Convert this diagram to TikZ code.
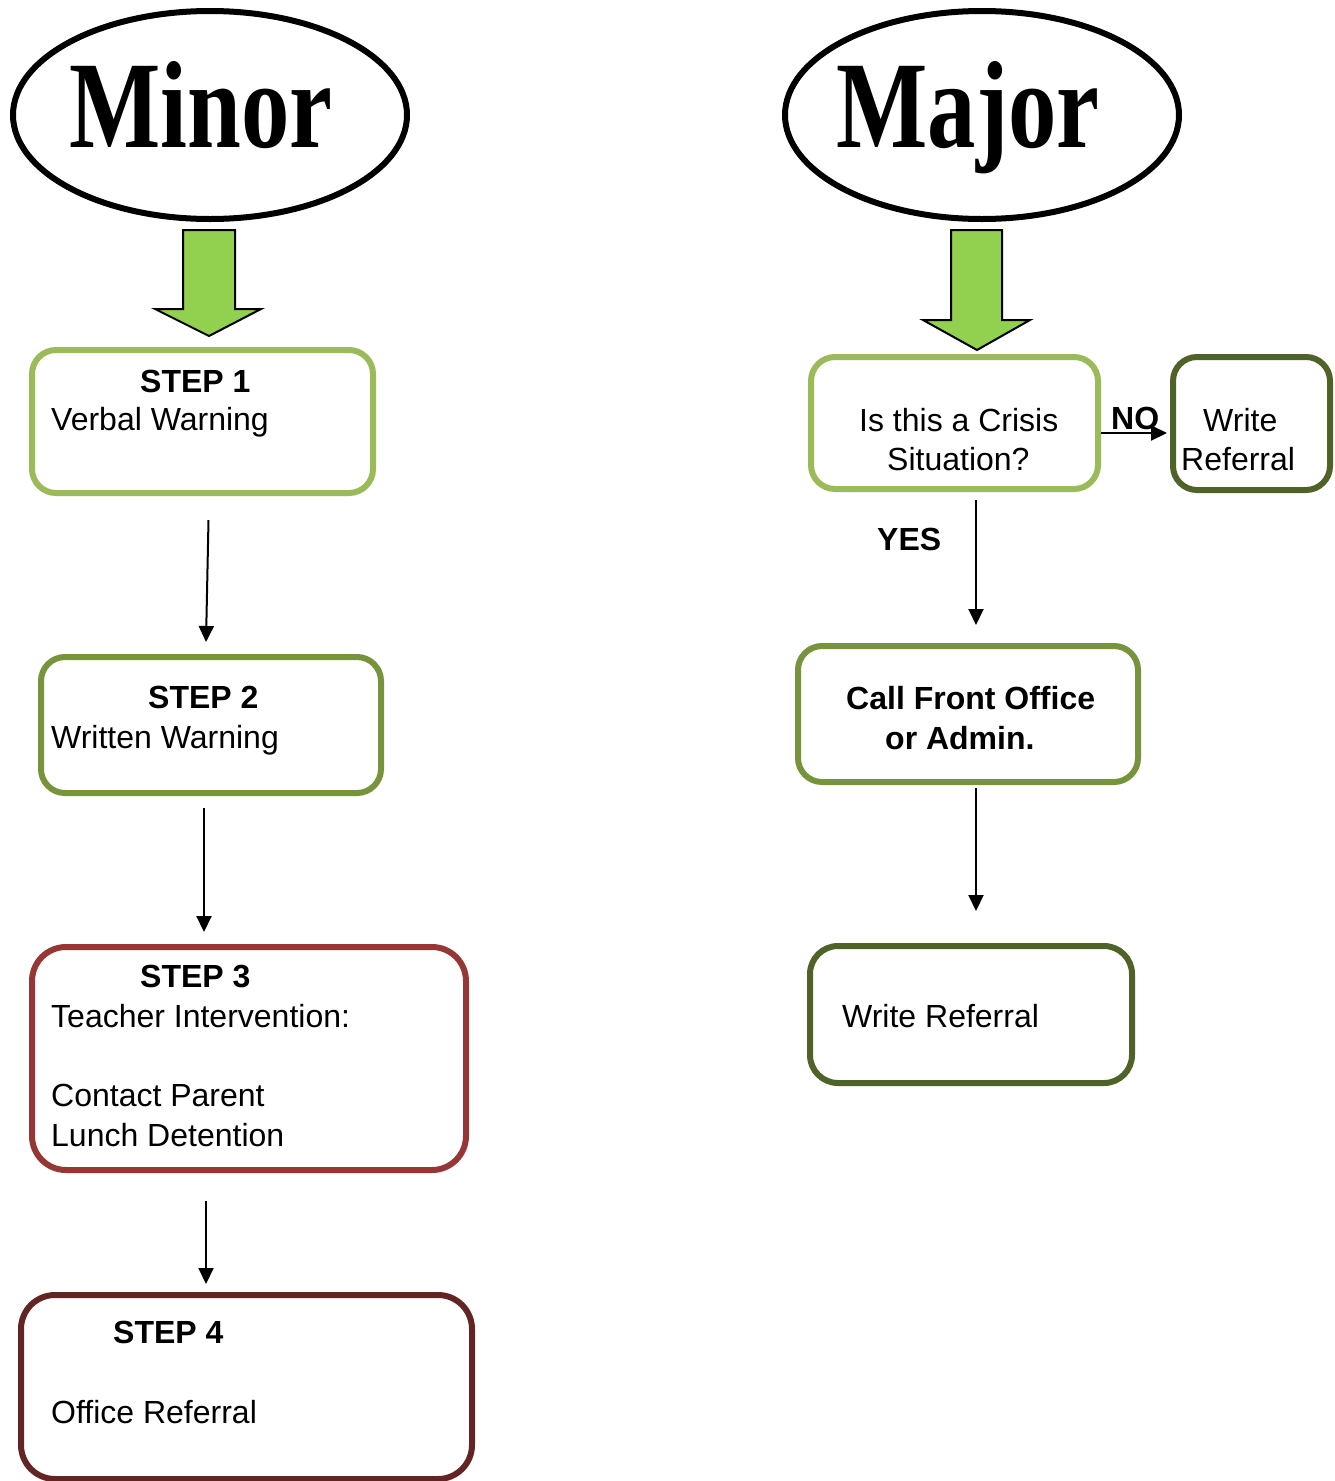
\documentclass[tikz,border=0pt]{standalone}
\usepackage{fontspec}
\usepackage{graphicx}
\setmainfont{Liberation Sans}
\newfontfamily\headfont{Liberation Serif}
\usetikzlibrary{arrows.meta}
\usetikzlibrary{shapes.geometric}
\usetikzlibrary{positioning}
\definecolor{lightolive}{HTML}{9BBB59}
\definecolor{midolive}{HTML}{77933C}
\definecolor{darkolive}{HTML}{4F6228}
\definecolor{brick}{HTML}{953735}
\definecolor{deepred}{HTML}{632523}
\definecolor{arrowgreen}{HTML}{92D050}
\tikzset{level/.style = {draw, ellipse, line width=6pt, inner sep=0pt,
                         minimum width=394pt, minimum height=208pt},
         levellabel/.style = {anchor=base, inner sep=0pt},
         stepbox/.style = {draw, rounded corners=24pt, line width=6pt, inner sep=0pt},
         txt/.style = {anchor=base west, inner sep=0pt,
                       font=\fontsize{32}{40}\selectfont},
         bold/.style = {txt, font=\fontsize{32}{40}\selectfont\bfseries},
         thin/.style = {line width=2pt, -{Triangle[width=15pt,length=16pt]}},
         fat/.style = {fill=arrowgreen, draw=black, line width=2pt, line join=miter}}
\newcommand{\leveltext}[1]{\scalebox{0.78}[1]{\headfont\bfseries\fontsize{124}{124}\selectfont #1}}
\begin{document}
\begin{tikzpicture}[x=1pt, y=-1pt]
      \useasboundingbox (0, 0) rectangle (1335, 1481);

      \node [level] (minor) at (210, 115) {};
      \node [levellabel] (minortxt) at (201, 147) {\leveltext{Minor}};
      \node [level] (major) at (982, 115) {};
      \node [levellabel] (majortxt) at (968, 147) {\leveltext{Major}};

      \draw [fat] (183, 230) -- (235, 230) -- (235, 309) -- (261, 309) --
      (209, 336) -- (155, 309) -- (183, 309) -- cycle;
      \draw [fat] (951, 230) -- (1002, 230) -- (1002, 320) -- (1030, 320) --
      (977, 350) -- (923, 320) -- (951, 320) -- cycle;

      \node [stepbox, draw=lightolive, minimum width=341pt, minimum height=143pt]
      (step1) at (202.5, 421.5) {};
      \node [stepbox, draw=midolive, minimum width=340pt, minimum height=136pt]
      (step2) at (211, 725) {};
      \node [stepbox, draw=brick, rounded corners=34pt, minimum width=434pt,
      minimum height=223pt] (step3) at (249, 1058.5) {};
      \node [stepbox, draw=deepred, rounded corners=34pt, minimum width=451pt,
      minimum height=184pt] (step4) at (246.5, 1387) {};

      \node [bold] (s1head) at (140, 392) {STEP 1};
      \node [txt] (s1body) at (51, 430) {Verbal Warning};
      \node [bold] (s2head) at (148, 708) {STEP 2};
      \node [txt] (s2body) at (51, 748) {Written Warning};
      \node [bold] (s3head) at (140, 987) {STEP 3};
      \node [txt] (s3body) at (51, 1027) {Teacher Intervention:};
      \node [txt] (s3parent) at (51, 1106) {Contact Parent};
      \node [txt] (s3lunch) at (51, 1146) {Lunch Detention};
      \node [bold] (s4head) at (113, 1343) {STEP 4};
      \node [txt] (s4body) at (51, 1423) {Office Referral};

      \draw [thin] ([xshift=6pt, yshift=-24pt]step1.south) --
      ([xshift=-5pt, yshift=12pt]step2.north);
      \draw [thin] ([xshift=-7pt, yshift=-12pt]step2.south) --
      ([xshift=-45pt, yshift=12pt]step3.north);
      \draw [thin] ([xshift=-43pt, yshift=-28pt]step3.south) --
      ([xshift=-40.5pt, yshift=8pt]step4.north);

      \node [stepbox, draw=lightolive, minimum width=287pt, minimum height=132pt]
      (crisis) at (954.5, 423) {};
      \node [stepbox, draw=darkolive, minimum width=157pt, minimum height=133pt]
      (direct) at (1251.5, 423.5) {};
      \node [stepbox, draw=midolive, minimum width=340pt, minimum height=136pt]
      (call) at (968, 714) {};
      \node [stepbox, draw=darkolive, rounded corners=28pt, minimum width=322pt,
      minimum height=137pt] (write) at (971, 1014.5) {};

      \node [txt] (crisis1) at (859, 431) {Is this a Crisis};
      \node [txt] (crisis2) at (887, 470) {Situation?};
      \node [txt] (direct1) at (1203, 431) {Write};
      \node [txt] (direct2) at (1181, 470) {Referral};
      \node [bold] (call1) at (846, 709) {Call Front Office};
      \node [bold] (call2) at (885, 749) {or Admin.};
      \node [txt] (write1) at (842, 1027) {Write Referral};

      \draw [thin] ([yshift=-10pt]crisis.east) -- ([xshift=-3pt, yshift=-9.5pt]direct.west);
      \node [bold] (no) at (1111, 429) {NO};
      \draw [thin] ([xshift=21.5pt, yshift=-8pt]crisis.south) --
      ([xshift=8pt, yshift=18pt]call.north);
      \node [bold] (yes) at (877, 550) {YES};
      \draw [thin] ([xshift=8pt, yshift=-3pt]call.south) --
      ([xshift=5pt, yshift=32pt]write.north);
    \end{tikzpicture}
\end{document}
